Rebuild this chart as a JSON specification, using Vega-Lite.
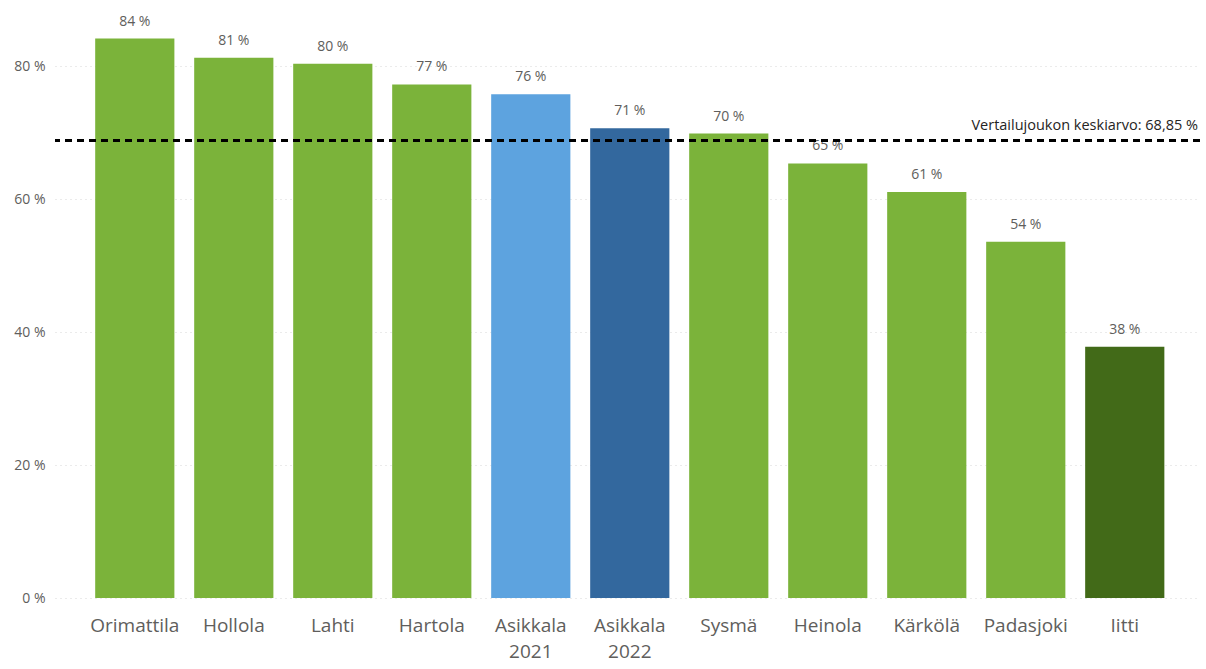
{
  "$schema": "https://vega.github.io/schema/vega-lite/v6.json",
  "width": 1145,
  "height": 598,
  "autosize": {"type": "none"},
  "padding": {"left": 55, "top": 0, "right": 6, "bottom": 71},
  "background": "white",
  "config": {
    "view": {"stroke": null},
    "font": "Open Sans"
  },
  "data": {
    "values": [
      {"kunta": "Orimattila", "arvo": 84.2, "ryhma": "muu"},
      {"kunta": "Hollola", "arvo": 81.3, "ryhma": "muu"},
      {"kunta": "Lahti", "arvo": 80.4, "ryhma": "muu"},
      {"kunta": "Hartola", "arvo": 77.3, "ryhma": "muu"},
      {"kunta": "Asikkala\n2021", "arvo": 75.8, "ryhma": "Asikkala 2021"},
      {"kunta": "Asikkala\n2022", "arvo": 70.7, "ryhma": "Asikkala 2022"},
      {"kunta": "Sysmä", "arvo": 69.9, "ryhma": "muu"},
      {"kunta": "Heinola", "arvo": 65.4, "ryhma": "muu"},
      {"kunta": "Kärkölä", "arvo": 61.1, "ryhma": "muu"},
      {"kunta": "Padasjoki", "arvo": 53.6, "ryhma": "muu"},
      {"kunta": "Iitti", "arvo": 37.8, "ryhma": "Iitti"}
    ]
  },
  "layer": [
    {
      "mark": {"type": "bar"},
      "encoding": {
        "x": {
          "field": "kunta", "type": "nominal", "sort": null,
          "scale": {"paddingInner": 0.2, "paddingOuter": 0.383, "align": 0.53},
          "axis": {
            "title": null, "labelAngle": 0, "ticks": false, "domain": false,
            "labelFontSize": 19, "labelColor": "#605E5C", "labelPadding": 18,
            "labelBaseline": "top", "labelLineHeight": 26,
            "labelExpr": "split(datum.label, '\\n')"
          }
        },
        "y": {
          "field": "arvo", "type": "quantitative",
          "scale": {"domain": [0, 90], "nice": false},
          "axis": {
            "title": null, "values": [0, 20, 40, 60, 80], "domain": false, "ticks": false,
            "labelExpr": "datum.value + ' %'", "labelFontSize": 14, "labelColor": "#605E5C",
            "labelPadding": 10, "gridColor": "#D6D6D6", "gridDash": [1, 4], "gridWidth": 1
          }
        },
        "color": {
          "field": "ryhma", "type": "nominal", "legend": null,
          "scale": {
            "domain": ["muu", "Asikkala 2021", "Asikkala 2022", "Iitti"],
            "range": ["#7BB33A", "#5DA3DF", "#33689E", "#426A18"]
          }
        }
      }
    },
    {
      "transform": [{"calculate": "format(datum.arvo, '.0f') + ' %'", "as": "nimi"}],
      "mark": {"type": "text", "baseline": "alphabetic", "dy": -13, "fontSize": 14, "color": "#605E5C"},
      "encoding": {
        "x": {"field": "kunta", "type": "nominal", "sort": null},
        "y": {"field": "arvo", "type": "quantitative"},
        "text": {"field": "nimi"}
      }
    },
    {
      "data": {"values": [{"ka": 68.85, "teksti": "Vertailujoukon keskiarvo: 68,85 %"}]},
      "layer": [
        {
          "mark": {"type": "rule", "color": "black", "strokeWidth": 3, "strokeDash": [7, 5]},
          "encoding": {"y": {"field": "ka", "type": "quantitative"}}
        },
        {
          "mark": {"type": "text", "align": "right", "baseline": "alphabetic", "dy": -11, "dx": -2, "fontSize": 14.5, "color": "#252423"},
          "encoding": {
            "y": {"field": "ka", "type": "quantitative"},
            "x": {"value": "width"},
            "text": {"field": "teksti"}
          }
        }
      ]
    }
  ]
}
